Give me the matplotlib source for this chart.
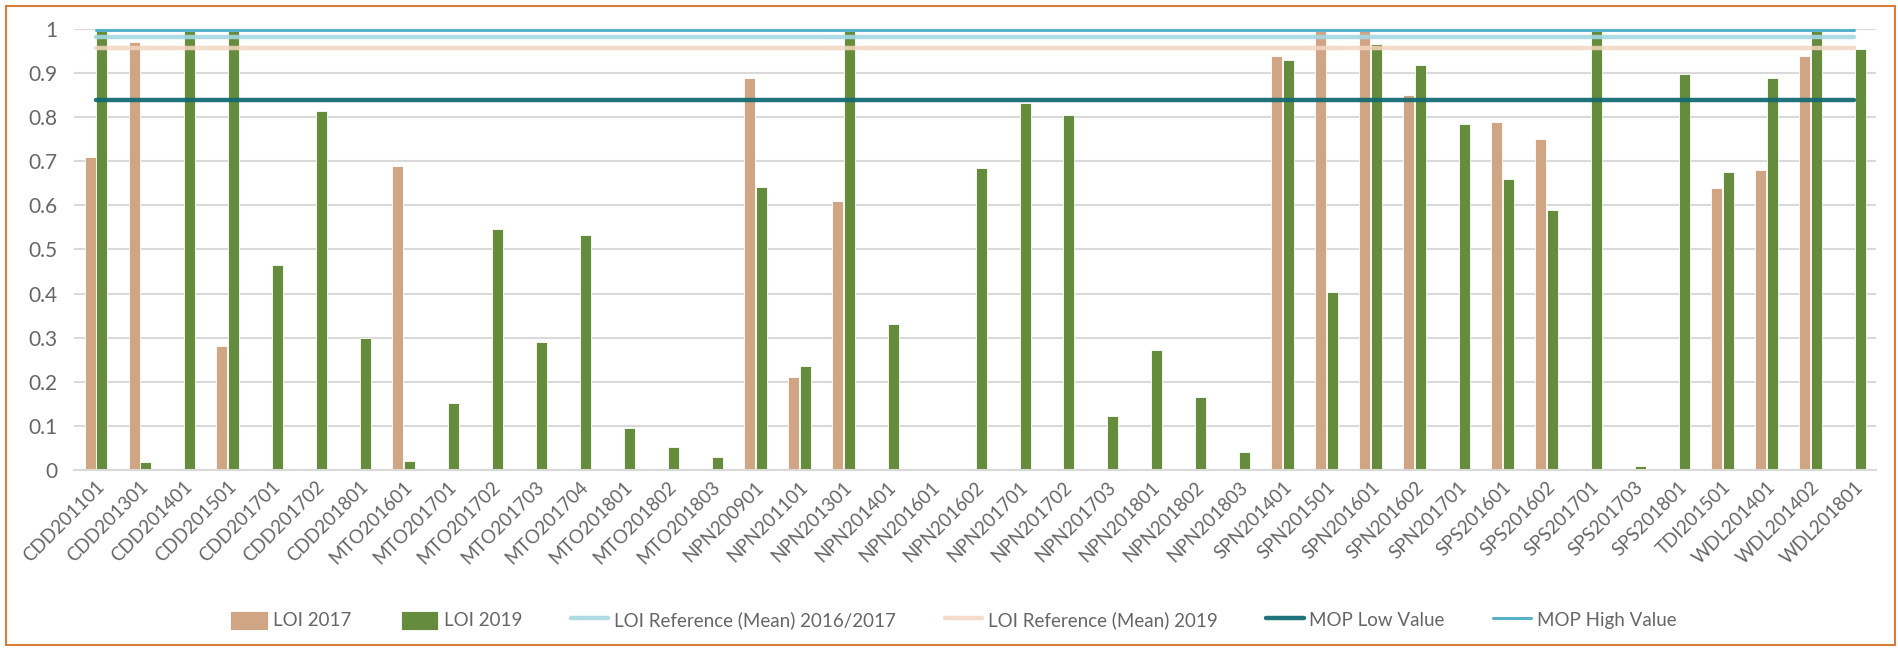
import numpy as np
import matplotlib
matplotlib.use("Agg")
import matplotlib.pyplot as plt
from matplotlib.patches import Rectangle
from matplotlib.ticker import FuncFormatter

# ============================================================
# Data
# ============================================================
sites = [
    "CDD201101", "CDD201301", "CDD201401", "CDD201501", "CDD201701", "CDD201702",
    "CDD201801", "MTO201601", "MTO201701", "MTO201702", "MTO201703", "MTO201704",
    "MTO201801", "MTO201802", "MTO201803", "NPN200901", "NPN201101", "NPN201301",
    "NPN201401", "NPN201601", "NPN201602", "NPN201701", "NPN201702", "NPN201703",
    "NPN201801", "NPN201802", "NPN201803", "SPN201401", "SPN201501", "SPN201601",
    "SPN201602", "SPN201701", "SPS201601", "SPS201602", "SPS201701", "SPS201703",
    "SPS201801", "TDI201501", "WDL201401", "WDL201402", "WDL201801",
]

loi_2017 = [
    0.71, 0.97, 0, 0.28, 0, 0, 0, 0.69, 0, 0, 0, 0, 0, 0, 0,
    0.89, 0.21, 0.61, 0, 0, 0, 0, 0, 0, 0, 0, 0,
    0.94, 1.0, 1.0, 0.85, 0, 0.79, 0.75, 0, 0, 0, 0.64, 0.68, 0.94, 0,
]

loi_2019 = [
    1.0, 0.018, 1.0, 1.0, 0.465, 0.814, 0.298, 0.02, 0.152, 0.546, 0.291, 0.532,
    0.095, 0.051, 0.028, 0.641, 0.235, 1.0, 0.332, 0, 0.685, 0.832, 0.806, 0.123,
    0.271, 0.165, 0.040, 0.930, 0.403, 0.966, 0.918, 0.785, 0.660, 0.590, 1.0,
    0.009, 0.899, 0.675, 0.890, 1.0, 0.956,
]

loi_ref_2016_2017 = 0.983
loi_ref_2019 = 0.958
mop_low = 0.840
mop_high = 0.998

# ============================================================
# Style
# ============================================================
plt.rcParams["font.family"] = ["Lato", "DejaVu Sans"]
text_grey = "#666666"
grid_grey = "#D9D9D9"

fig = plt.figure(figsize=(18.99, 6.48), dpi=100)
ax = fig.add_axes([0.039, 0.275, 0.949, 0.680])

x = np.arange(len(sites))
w = 0.25
off = 0.135

b17 = ax.bar(x - off, loi_2017, width=w, color="#CFA584", edgecolor="white",
             linewidth=0.6, label="LOI 2017", zorder=2)
b19 = ax.bar(x + off, loi_2019, width=w, color="#658B3C", edgecolor="white",
             linewidth=0.6, label="LOI 2019", zorder=2)

x_line = [x[0], x[-1]]
l1, = ax.plot(x_line, [loi_ref_2016_2017] * 2, color="#A6D8E2", lw=3.2, alpha=0.9,
              solid_capstyle="round", label="LOI Reference (Mean) 2016/2017", zorder=3)
l2, = ax.plot(x_line, [loi_ref_2019] * 2, color="#F4D5C0", lw=3.2, alpha=0.85,
              solid_capstyle="round", label="LOI Reference (Mean) 2019", zorder=3)
l3, = ax.plot(x_line, [mop_low] * 2, color="#146B73", lw=3.2, alpha=0.95,
              solid_capstyle="round", label="MOP Low Value", zorder=3)
l4, = ax.plot(x_line, [mop_high] * 2, color="#55B2C8", lw=2.2,
              solid_capstyle="round", label="MOP High Value", zorder=3)

ax.set_xlim(-0.5, len(sites) - 0.5)
ax.set_ylim(0, 1)
ax.set_yticks(np.arange(0, 1.01, 0.1))
ax.yaxis.set_major_formatter(FuncFormatter(lambda v, p: f"{v:g}"))
ax.grid(axis="y", color=grid_grey, lw=1.5, zorder=0)
ax.set_axisbelow(True)

for s in ["top", "right", "left"]:
    ax.spines[s].set_visible(False)
ax.spines["bottom"].set_color(grid_grey)
ax.spines["bottom"].set_linewidth(1.5)

ax.set_xticks(x)
ax.set_xticklabels(sites, rotation=45, ha="right", rotation_mode="anchor",
                   fontsize=13.5, color=text_grey)
ax.tick_params(axis="x", length=0, pad=6)
ax.tick_params(axis="y", length=0, labelsize=15, labelcolor=text_grey, pad=12)

handles = [b17, b19, l1, l2, l3, l4]
fig.legend(handles, [h.get_label() for h in handles], loc="center",
           bbox_to_anchor=(0.502, 0.043), ncol=6, frameon=False,
           fontsize=13.5, labelcolor=text_grey, handlelength=2.0,
           handleheight=1.2, columnspacing=2.6, handletextpad=0.3)

fig.patches.append(Rectangle((0.003, 0.004), 0.995, 0.987, transform=fig.transFigure,
                             fill=False, edgecolor="#D97E3A", lw=1.5))

fig.savefig("out.png", dpi=100)
